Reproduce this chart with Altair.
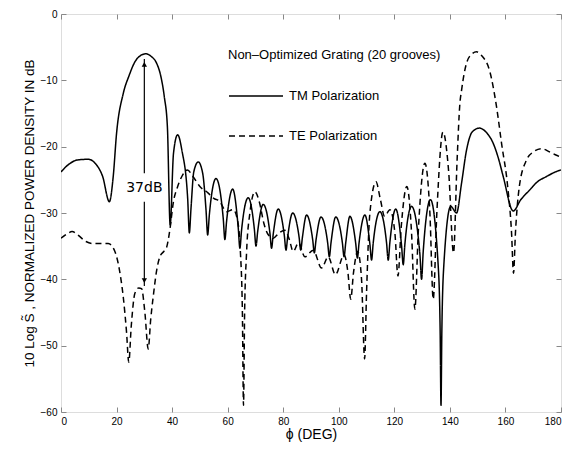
import altair as alt
import pandas as pd

# ---- data (phi in degrees, power in dB) ----
tm_phi = [0, 3, 6, 9.8, 12.5, 15, 17.4, 18.8, 20, 22.4, 24.5, 26.5, 28.5, 30.5, 32.5, 34.4, 36, 37.2, 38.3, 39.3,
          40.5, 42, 43.5, 45.6, 46.2, 46.8, 47.8, 49.4, 51, 52.2, 52.8, 53.4, 55.8, 58.4, 59, 59.6, 61.8,
          63.8, 64.4, 65, 67.4, 69.6, 70.2, 70.8, 72.8, 75.2, 75.8, 76.4, 78.2, 80.4, 81, 81.6,
          83.4, 85.7, 86.3, 86.9, 88.4, 90.6, 91.2, 91.8, 93.6, 96, 96.6, 97.2, 98.9, 101.3, 101.9, 102.5,
          104, 106.1, 106.7, 107.3, 109.4, 111.2, 111.8, 112.4, 114.8, 117.2, 117.8, 118.4, 120.5,
          122.6, 123.2, 123.8, 126.2, 129.2, 129.8, 130.4, 133, 135.8, 136.5, 136.8, 137.1, 137.8, 140.3,
          142.4, 144.2, 146, 148, 150.6, 153, 155.6, 157.5, 159.2, 162.8, 165.5, 168.8, 171.5, 174.8, 178, 180]
tm_db = [-23.8, -22.6, -22.0, -21.9, -22.6, -24.5, -28.3, -24.5, -18, -12, -9.3, -7.3, -6.3, -6.0, -6.4, -7.4, -9.5,
         -12.5, -17, -31.8,
         -21, -18.2, -20.5, -27.8, -33, -29.3, -23.8, -22.3, -24, -29.5, -33.3, -30.3, -24.8, -30.8, -34, -31.3, -26.4,
         -32.2, -35.3, -32.6, -27.7, -32.4, -35, -32.8, -28.7, -33, -35.3, -33.2, -29.4, -33.4, -35.6, -33.6,
         -30, -33.6, -35.6, -33.7, -30.3, -34, -36, -34.1, -30.6, -34.5, -36.6, -34.5, -30.6, -34.5, -36.6, -34.5,
         -30.5, -34.6, -36.8, -34.5, -30.3, -34.7, -37.1, -34.5, -29.8, -34.5, -37.1, -34.4, -29.4,
         -34.9, -37.8, -34.7, -29, -36.2, -40, -35.8, -28, -38, -48, -59, -48, -38, -29,
         -30, -25.5, -20.5, -17.8, -17.2, -17.8, -19.5, -21.8, -24.5, -29.7, -28, -26.5, -25.3, -24.5, -23.8, -23.5]

te_phi = [0, 2, 4, 6, 9, 11.6, 14, 17, 19.4, 21, 22.5, 23.6, 24.4, 25.3, 26.6, 28, 29, 30.2, 31.4, 32.3, 33.2,
          34.5, 35.6, 37, 38, 39.2, 40.4, 42, 43.5, 45.5, 47.5, 50, 53, 55, 57, 59.6, 62, 63.5, 64.6, 65.3, 65.7,
          66.1, 66.8, 68, 69.8, 71.5, 73, 74.5, 76.4, 78.5, 80.6, 82.2, 83.6, 85.5, 87.8, 90.8, 93.8, 96.2, 98.8,
          101.9, 103.3, 104.3, 105.3, 106.8, 108.2, 109.3, 110, 111.2, 113.4, 115, 116.5, 118.4, 120.2, 121.3,
          122.5, 124.5, 126.2, 127.4, 128.6, 131, 132.8, 134, 135.3, 137.5, 139.6, 141.3, 142.6, 143.6, 144.2,
          146, 148, 149.6, 151.5, 154.4, 156.8, 158.6, 160.8, 162.2, 162.9, 163.6, 165, 167.6, 170, 173, 176,
          178.4, 180]
te_db = [-33.8, -33.2, -32.8, -33.3, -34.3, -34.6, -34.6, -34.6, -35.8, -38.5, -43, -48, -52.5, -47, -42.1, -41.3,
         -41.4, -45, -50.5, -46, -42.6,
         -38.5, -36.6, -35.8, -35.2, -32.5, -28.5, -26, -24.5, -23.5, -24.5, -26, -27, -27.8, -28.2, -29.8, -29.5,
         -31, -36, -45, -59,
         -45, -36, -30, -26.8, -28.5, -31.5, -33.2, -33.8, -33, -32.6, -34, -35.8, -34.5, -36.6, -35.6, -38.3,
         -36.6, -39.3,
         -36.3, -39, -43, -39, -35.8, -40, -52, -42, -30, -25.3, -28, -30.5, -29.5, -33, -39.5,
         -32, -26, -33, -44.5, -33, -22.5, -30, -43, -30, -17.8, -24, -36, -22, -13.5, -11.5,
         -7.4, -6, -5.7, -6.3, -8.7, -14, -19.5, -26, -33, -39.1, -33, -26, -22, -20.8, -20.3, -20.8,
         -21.3, -21.6]

series_names = ["TM Polarization", "TE Polarization"]
legend_title = "Non\u2013Optimized Grating (20 grooves)"

x_ticks = [0, 20, 40, 60, 80, 100, 120, 140, 160, 180]
y_ticks = [0, -10, -20, -30, -40, -50, -60]

# 37 dB annotation (data units)
ann_phi = [30, 30]
ann_from = [-6.8, -28.3]
ann_to = [-24.0, -41.0]
head_db = [-7.6, -40.2]
head_shape = ["triangle-up", "triangle-down"]
ann_label = ["37dB"]
ann_label_db = [-26.2]

# ---- tables ----
df = pd.concat([
    pd.DataFrame({"phi": tm_phi, "db": tm_db, "series": series_names[0]}),
    pd.DataFrame({"phi": te_phi, "db": te_db, "series": series_names[1]}),
], ignore_index=True)
seg_df = pd.DataFrame({"phi": ann_phi, "y1": ann_from, "y2": ann_to})
head_df = pd.DataFrame({"phi": ann_phi, "db": head_db, "shape": head_shape})
lab_df = pd.DataFrame({"phi": [ann_phi[0]], "db": ann_label_db, "text": ann_label})

FONT = "Liberation Sans"


def xsc():
    return alt.Scale(domain=[0, 180], nice=False, zero=False)


def ysc():
    return alt.Scale(domain=[-60, 0], nice=False, zero=False)


lines = alt.Chart(df).mark_line(color="black", strokeWidth=1.5, interpolate="monotone", clip=True).encode(
    x=alt.X("phi:Q", scale=xsc(), axis=alt.Axis(
        orient="bottom", values=x_ticks, offset=-5, tickSize=5, domain=False, grid=False,
        labelPadding=4, title="\u03d5 (DEG)", titleFontSize=14, titleFontWeight="normal", titlePadding=1)),
    y=alt.Y("db:Q", scale=ysc(), axis=alt.Axis(
        orient="left", values=y_ticks, offset=-5, tickSize=5, domain=False, grid=False,
        labelPadding=4, title="10 Log S\u0303 , NORMALIZED POWER DENSITY IN dB",
        titleFontSize=13.5, titleFontWeight="normal", titlePadding=4)),
    strokeDash=alt.StrokeDash("series:N", scale=alt.Scale(domain=series_names, range=[[1, 0], [6, 4]]),
                              legend=alt.Legend(
                                  orient="none", legendX=167, legendY=35, direction="vertical",
                                  title=legend_title, titleFontSize=13, titleFontWeight="normal",
                                  titleColor="black", titleFont=FONT, titlePadding=27, titleLimit=400,
                                  labelFontSize=13, labelFont=FONT, labelColor="black", labelOffset=5,
                                  rowPadding=26, clipHeight=14, symbolType="stroke", symbolSize=2916,
                                  symbolStrokeWidth=1.5, symbolStrokeColor="black", padding=0)),
)

frame_axes = alt.Chart(df).mark_line(opacity=0).encode(
    x=alt.X("phi:Q", scale=xsc(), axis=alt.Axis(
        orient="top", values=x_ticks, offset=-5, tickSize=5, domain=False, grid=False,
        labels=False, title=None)),
    y=alt.Y("db:Q", scale=ysc(), axis=alt.Axis(
        orient="right", values=y_ticks, offset=-5, tickSize=5, domain=False, grid=False,
        labels=False, title=None)),
    detail="series:N",
)

segs = alt.Chart(seg_df).mark_rule(color="black", strokeWidth=1.2).encode(
    x=alt.X("phi:Q", scale=xsc(), axis=None),
    y=alt.Y("y1:Q", scale=ysc(), axis=None),
    y2="y2:Q",
)

heads = alt.Chart(head_df).mark_point(filled=True, color="black", size=28, opacity=1).encode(
    x=alt.X("phi:Q", scale=xsc(), axis=None),
    y=alt.Y("db:Q", scale=ysc(), axis=None),
    shape=alt.Shape("shape:N", scale=None, legend=None),
)

label = alt.Chart(lab_df).mark_text(font="DejaVu Sans", fontSize=14, color="black", baseline="middle").encode(
    x=alt.X("phi:Q", scale=xsc(), axis=None),
    y=alt.Y("db:Q", scale=ysc(), axis=None),
    text="text:N",
)

chart = alt.layer(lines, frame_axes, segs, heads, label).resolve_scale(
    x="independent", y="independent"
).properties(
    width=500, height=398,
    autosize=alt.AutoSizeParams(type="none"),
    padding={"left": 53, "top": 6, "right": 10, "bottom": 30},
).configure_view(
    stroke="black", strokeWidth=1.2
).configure_axis(
    labelFont=FONT, labelFontSize=11, labelColor="black", tickColor="black", tickWidth=1.2,
    titleFont=FONT, titleFontWeight="normal", titleColor="black"
).configure(background="white")

chart.save("out.html", embed_options={"renderer": "svg", "actions": False})
